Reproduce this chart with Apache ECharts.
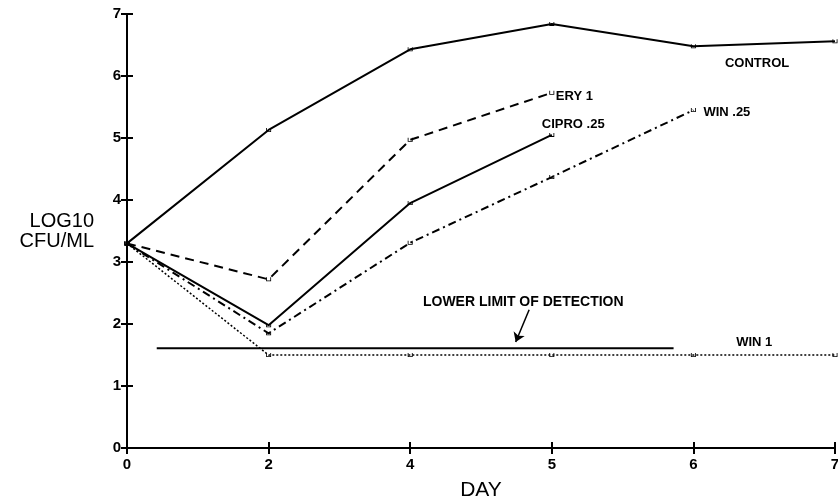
<!DOCTYPE html>
<html>
<head>
<meta charset="utf-8">
<script src="https://cdn.jsdelivr.net/npm/echarts@6/dist/echarts.min.js"></script>
<style>
  html, body { margin: 0; padding: 0; background: #fff; }
  #container { width: 838px; height: 502px; }
</style>
</head>
<body>
<div id="container"></div>
<script>
// day labels sit at evenly spaced slots on the axis (0,2,4,5,6,7)
const dayLabels = ['0', '2', '4', '5', '6', '7'];

const control  = [3.30, 5.13, 6.43, 6.84, 6.48, 6.56];
const ery1     = [3.30, 2.72, 4.97, 5.73];
const cipro025 = [3.30, 1.98, 3.95, 5.05];
const win025   = [3.30, 1.85, 3.31, 4.37, 5.45];
const win1     = [3.30, 1.50, 1.50, 1.50, 1.50, 1.50];

// lower limit of detection (x in slot units)
const limitX = [0.21, 3.86];
const limitY = 1.61;

const font = 'Liberation Sans, Arial, sans-serif';
const tickSymbol = 'path://M0,0 L0,5 L6,5 L6,0 L5,0 L5,4 L1,4 L1,0 Z';

function toPts(arr) {
    return arr.map(function (v, i) { return [i, v]; });
}

function lineSeries(name, arr, type, width) {
    return {
        name: name,
        type: 'line',
        data: toPts(arr),
        symbol: tickSymbol,
        symbolSize: [5, 4],
        showSymbol: true,
        itemStyle: { color: '#000' },
        lineStyle: { color: '#000', width: width, type: type },
        z: 3
    };
}

const labelStyle = {
    show: true,
    color: '#000',
    fontFamily: font,
    fontWeight: 'bold',
    fontSize: 13
};

const sControl = lineSeries('CONTROL', control, 'solid', 2);
sControl.markPoint = {
    symbol: 'circle', symbolSize: 0,
    label: Object.assign({}, labelStyle, { position: 'inside', formatter: '{b}' }),
    data: [{ name: 'CONTROL', coord: [4.45, 6.21] }]
};

const sEry = lineSeries('ERY 1', ery1, [9, 6], 2);
sEry.endLabel = Object.assign({}, labelStyle, { formatter: 'ERY 1', distance: 4, offset: [0, 4] });

const sCipro = lineSeries('CIPRO .25', cipro025, 'solid', 2);
sCipro.endLabel = Object.assign({}, labelStyle, { formatter: 'CIPRO .25', distance: 0, offset: [-10, -10] });

const sWin025 = lineSeries('WIN .25', win025, [8, 4, 2, 4], 2);
sWin025.endLabel = Object.assign({}, labelStyle, { formatter: 'WIN .25', distance: 10, offset: [0, 2] });

const sWin1 = lineSeries('WIN 1', win1, [2, 2], 1.5);
sWin1.markPoint = {
    symbol: 'circle', symbolSize: 0,
    label: Object.assign({}, labelStyle, { position: 'inside', formatter: '{b}' }),
    data: [{ name: 'WIN 1', coord: [4.43, 1.71] }]
};

const sLimit = {
    name: 'limit',
    type: 'line',
    data: [[limitX[0], limitY], [limitX[1], limitY]],
    symbol: 'none',
    lineStyle: { color: '#000', width: 2 },
    markLine: {
        silent: true,
        symbolSize: 9,
        lineStyle: { color: '#000', width: 1.5, type: 'solid' },
        label: { show: false },
        data: [[
            { coord: [2.84, 2.23], symbol: 'none' },
            { coord: [2.745, 1.71], symbol: 'arrow' }
        ]]
    },
    markPoint: {
        symbol: 'circle', symbolSize: 0,
        label: Object.assign({}, labelStyle, { position: 'right', distance: 0, fontSize: 14, formatter: '{b}' }),
        data: [{ name: 'LOWER LIMIT OF DETECTION', coord: [2.09, 2.35] }]
    },
    z: 2
};

const axisLineStyle = { lineStyle: { color: '#000', width: 2 } };
const tickLabel = { color: '#000', fontFamily: font, fontWeight: 'bold', fontSize: 15 };

let option = {
    animation: false,
    backgroundColor: '#fff',
    grid: { left: 127, right: 3, top: 14, bottom: 54, outerBoundsMode: 'none', containLabel: false },
    xAxis: [
        {
            type: 'value', min: 0, max: 5, interval: 1,
            name: 'DAY', nameLocation: 'middle', nameGap: 32,
            nameTextStyle: { color: '#000', fontFamily: font, fontSize: 21 },
            axisLine: axisLineStyle,
            axisTick: { show: true, length: 6, lineStyle: { color: '#000', width: 2 } },
            axisLabel: Object.assign({}, tickLabel, {
                margin: 9,
                formatter: function (v) { return dayLabels[v]; }
            }),
            splitLine: { show: false }
        },
        {
            // second axis shifted inward to give ticks that cross the line
            type: 'value', min: 0, max: 5, interval: 1, position: 'bottom', offset: -6,
            axisLine: { show: false },
            axisTick: { show: true, length: 12, lineStyle: { color: '#000', width: 2 } },
            axisLabel: { show: false },
            splitLine: { show: false }
        }
    ],
    yAxis: [
        {
            type: 'value', min: 0, max: 7, interval: 1,
            name: 'LOG10\nCFU/ML', nameLocation: 'middle', nameRotate: 0, nameGap: 33,
            nameTextStyle: { color: '#000', fontFamily: font, fontSize: 20, lineHeight: 20, align: 'right' },
            axisLine: axisLineStyle,
            axisTick: { show: true, length: 6, lineStyle: { color: '#000', width: 2 } },
            axisLabel: Object.assign({}, tickLabel, { margin: 6 }),
            splitLine: { show: false }
        },
        {
            type: 'value', min: 0, max: 7, interval: 1, position: 'left', offset: -6,
            axisLine: { show: false },
            axisTick: { show: true, length: 12, lineStyle: { color: '#000', width: 2 } },
            axisLabel: { show: false },
            splitLine: { show: false }
        }
    ],
    series: [sControl, sEry, sCipro, sWin025, sWin1, sLimit]
};

let chartDom = document.getElementById('container');
let chrt = echarts.init(chartDom);
chrt.setOption(option);
</script>
</body>
</html>
